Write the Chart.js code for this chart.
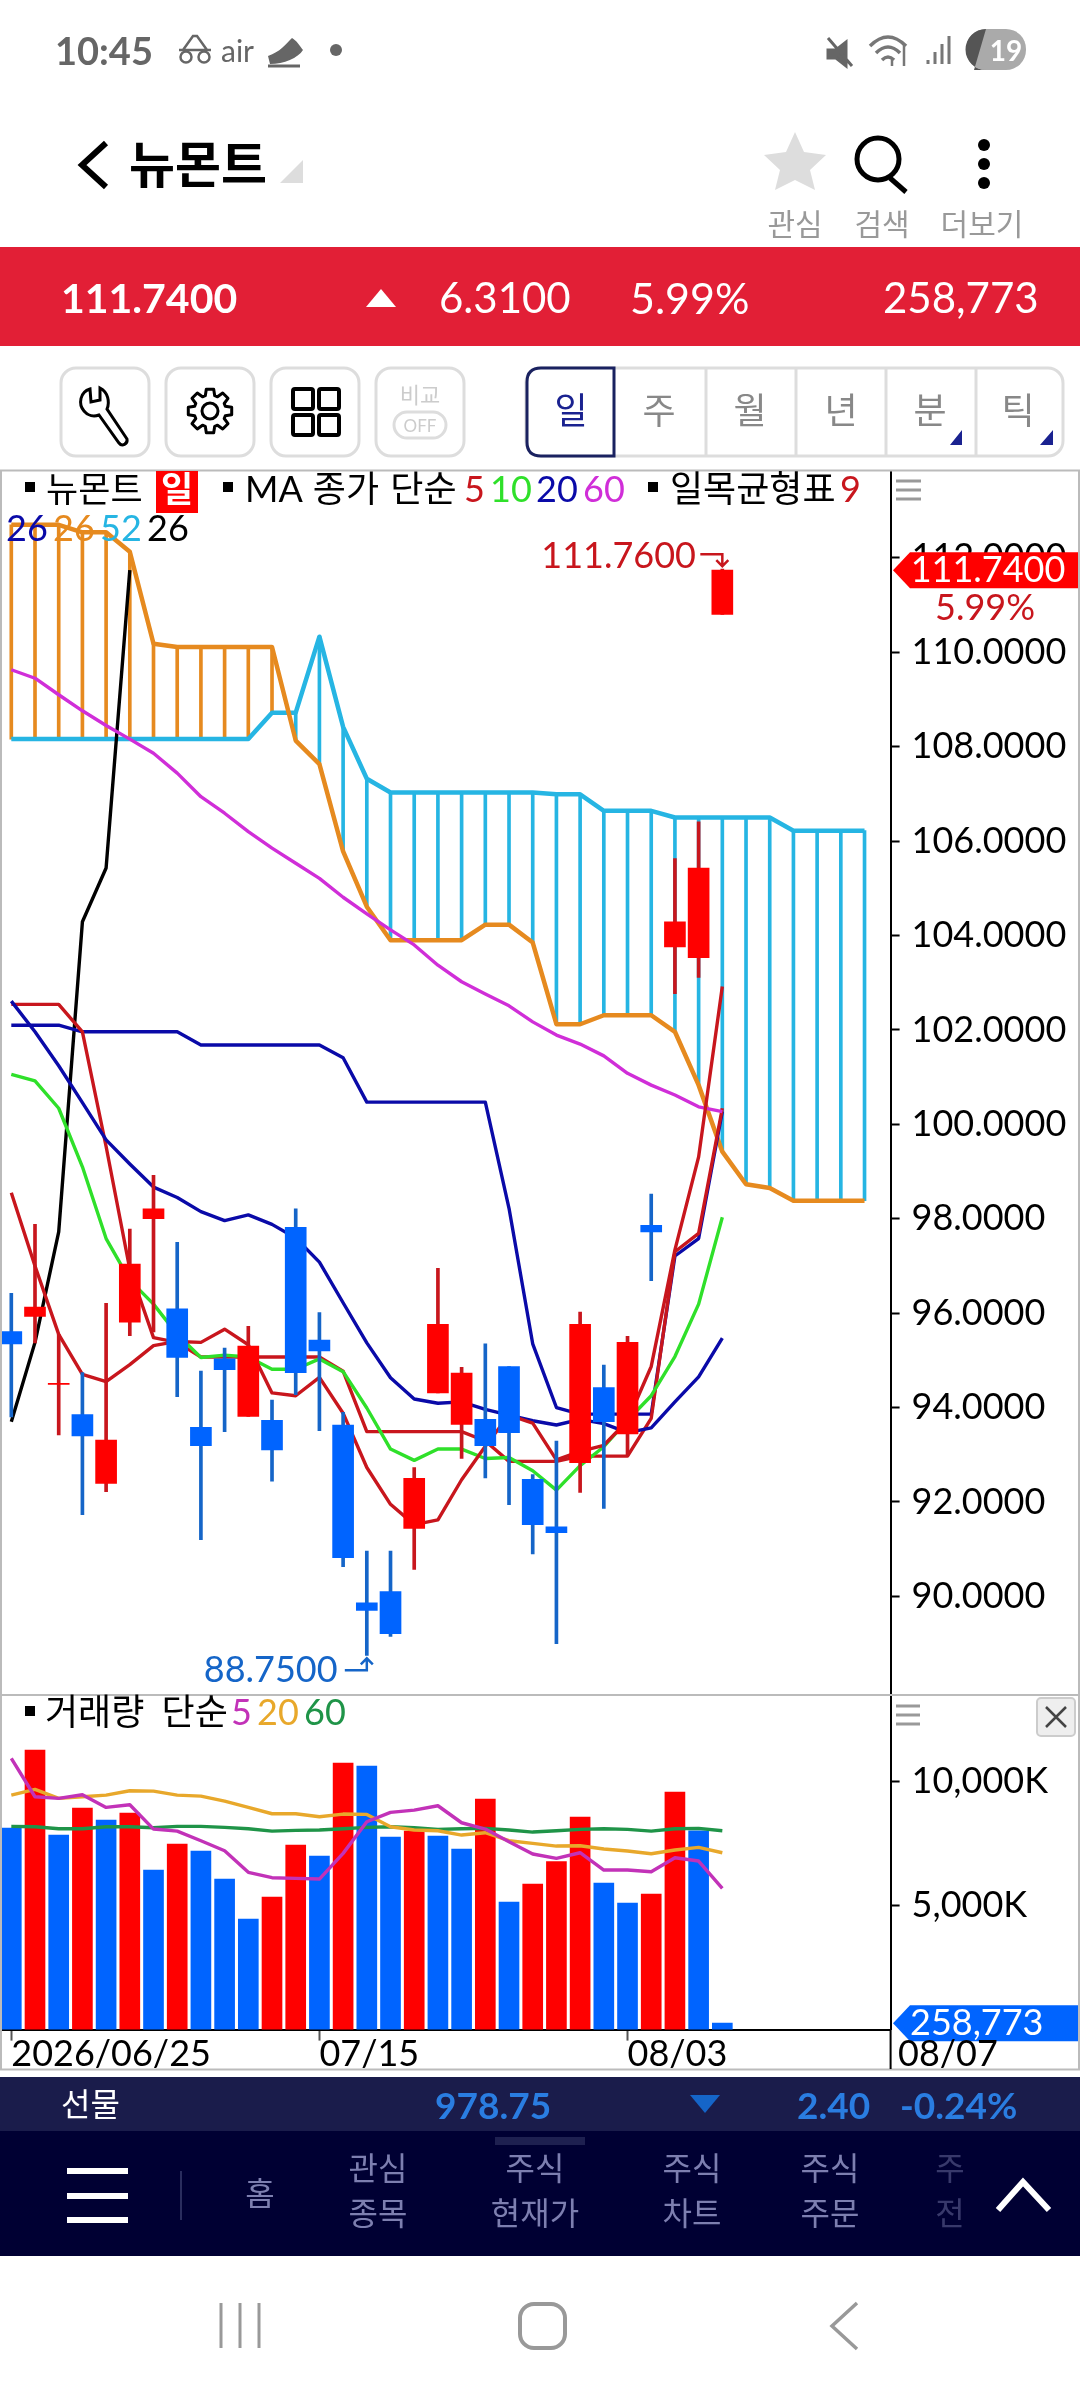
<!DOCTYPE html>
<html lang="ko">
<head>
<meta charset="utf-8">
<title>뉴몬트</title>
<script src="https://cdn.jsdelivr.net/npm/chart.js@4"></script>
<style>
  html, body { margin: 0; padding: 0; background: #fff; }
  #page { position: relative; width: 1080px; height: 2400px; overflow: hidden; background: #fff; font-family: Lato, "Noto Sans CJK KR", sans-serif; }
  #page canvas { position: absolute; left: 0; }
  #icons { position: absolute; left: 0; top: 0; }
  .t { position: absolute; white-space: nowrap; line-height: 1; }
  .box { position: absolute; box-sizing: border-box; }
</style>
</head>
<body>
<div id="page">
  <div class="box" style="left:0;top:247px;width:1080px;height:99px;background:#e21f36"></div>
  <div class="box" style="left:0;top:2077px;width:1080px;height:54px;background:#1a1c4b"></div>
  <div class="box" style="left:0;top:2131px;width:1080px;height:125px;background:#000033"></div>
  <canvas id="priceChart" width="1080" height="1224" style="top:471px"></canvas>
  <canvas id="volumeChart" width="1080" height="374" style="top:1695px"></canvas>
  <svg id="icons" width="1080" height="2400" fill="none">
    <!-- pane frames -->
    <path d="M1 471V2069M0 470.5H1080M0 1695H1080M0 2069.5H1080M1079 471V2069" stroke="#bbb" stroke-width="2"/>
    <path d="M890.6 2030V2069" stroke="#000" stroke-width="2"/>
    <path d="M896 481H921M896 490H921M896 499H921M896 1706H920M896 1715H920M896 1724H920" stroke="#999" stroke-width="3"/>
    <rect x="1037" y="1698" width="38" height="38" rx="4" fill="#eee" stroke="#ccc" stroke-width="2"/>
    <path d="M1046 1707L1066 1727M1066 1707L1046 1727" stroke="#444" stroke-width="2.5"/>
    <!-- status bar -->
    <g stroke="#666" stroke-width="2.5">
      <path d="M183 50L193 36H197L207 50M179 50H211"/><circle cx="186" cy="57" r="5.5"/><circle cx="204" cy="57" r="5.5"/>
    </g>
    <path d="M268 56C280 52 286 44 292 38C296 40 300 46 303 50C298 58 284 64 270 64Z" fill="#666"/>
    <path d="M268 66H300" stroke="#666" stroke-width="3"/>
    <circle cx="336" cy="50" r="6" fill="#666"/>
    <path d="M828 50H836L846 42V66L836 58H828Z M828 38L852 66" stroke="#666" stroke-width="3" fill="#666"/>
    <path d="M870 46Q888 28 906 46M876 53Q888 41 900 53M882 60Q888 54 894 60" stroke="#777" stroke-width="3.5"/>
    <path d="M892 66V58M904 66V44" stroke="#777" stroke-width="2.5"/>
    <path d="M928 64V60M935 64V52M942 64V44M949 64V36" stroke="#777" stroke-width="3"/>
    <rect x="966" y="29" width="60" height="41" rx="20" fill="#aaa"/>
    <path d="M986 29A20 20 0 0 0 986 70H974Z" fill="#555"/>
    <!-- title row -->
    <path d="M106 143L82 165L106 187" stroke="#000" stroke-width="6"/>
    <path d="M280 183L303 160V183Z" fill="#ddd"/>
    <path d="M795 132L804 152L826 155L810 170L815 190L795 180L775 190L780 170L764 155L786 152Z" fill="#ddd"/>
    <circle cx="878" cy="159" r="21" stroke="#000" stroke-width="5"/>
    <path d="M890 178L906 192" stroke="#000" stroke-width="5"/>
    <circle cx="984" cy="145" r="6" fill="#000"/><circle cx="984" cy="164" r="6" fill="#000"/><circle cx="984" cy="183" r="6" fill="#000"/>
    <path d="M366 307L381 289L396 307Z" fill="#fff"/>
    <!-- tool buttons -->
    <g stroke="#ddd" stroke-width="3">
      <rect x="61" y="368" width="88" height="88" rx="15"/><rect x="166" y="368" width="88" height="88" rx="15"/>
      <rect x="271" y="368" width="88" height="88" rx="15"/><rect x="376" y="368" width="88" height="88" rx="15"/>
      <rect x="526" y="368" width="537" height="88" rx="15"/>
      <path d="M706 369V455M796 369V455M886 369V455M976 369V455"/>
    </g>
    <path d="M614 368H541Q527 368 527 382V442Q527 456 541 456H614Z" fill="#fff" stroke="#1a2260" stroke-width="3"/>
    <path d="M90 389C80 392 78 404 84 411C88 416 94 417 99 415L119 443C122 447 128 444 127 439L107 409C110 402 108 392 100 388L100 400L91 402Z" stroke="#000" stroke-width="3"/>
    <circle cx="210" cy="411" r="8" stroke="#000" stroke-width="3"/>
    <path id="gear" stroke="#000" stroke-width="3" stroke-linejoin="round"/>
    <g stroke="#000" stroke-width="4">
      <rect x="293" y="389" width="20" height="20" rx="2"/><rect x="319" y="389" width="20" height="20" rx="2"/>
      <rect x="293" y="415" width="20" height="20" rx="2"/><rect x="319" y="415" width="20" height="20" rx="2"/>
    </g>
    <rect x="394" y="412" width="52" height="26" rx="13" stroke="#ddd" stroke-width="3"/>
    <path d="M950 445L962 430V445ZM1040 445L1053 430V445Z" fill="#1a2290"/>
    <!-- bottom nav -->
    <path d="M495 2137H585V2145H495Z" fill="#1e2050"/>
    <path d="M690 2095H720L705 2113Z" fill="#1565c8"/>
    <path d="M67 2171H128M67 2196H128M67 2220H128" stroke="#fff" stroke-width="6"/>
    <path d="M181 2171V2220" stroke="#2a2d5e" stroke-width="2"/>
    <path d="M998 2210L1023 2182L1049 2210" stroke="#fff" stroke-width="6"/>
    <path d="M221 2303V2348M240 2303V2348M259 2303V2348" stroke="#999" stroke-width="3"/>
    <rect x="520" y="2304" width="45" height="44" rx="14" stroke="#999" stroke-width="4"/>
    <path d="M857 2303L832 2326L857 2349" stroke="#999" stroke-width="3.5"/>
  </svg>
</div>
<script>
// candles
const open  = [95.61,95.93,94.49,93.85,92.39,95.81,98.00,96.09,93.58,95.03,93.81,93.73,97.82,95.43,93.63,89.86,90.10,91.44,94.31,93.64,93.75,94.87,92.48,91.47,92.83,94.42,93.44,97.86,103.76,103.53,110.80]
const close = [95.35,96.13,94.51,93.40,93.31,97.04,98.21,95.06,93.19,94.80,95.30,93.10,94.74,95.20,90.82,89.70,89.21,92.50,95.76,94.73,93.19,93.47,91.52,91.35,95.76,93.70,95.38,97.72,104.29,105.43,111.74]
const high  = [96.42,97.88,95.55,94.74,96.21,97.78,98.92,97.50,94.77,95.26,95.72,94.16,98.21,96.01,93.90,90.96,90.96,92.73,96.95,94.85,95.35,94.87,92.58,93.29,96.02,94.90,95.51,98.52,105.63,106.41,111.76]
const low   = [93.80,95.37,93.42,91.73,92.22,95.52,95.60,94.23,91.20,93.49,93.81,92.44,94.27,93.51,90.63,88.75,89.15,90.57,94.31,92.92,92.51,91.94,90.90,89.00,92.20,91.86,92.98,96.69,102.77,103.11,110.80]

// moving averages
const ma5  = [98.55,97.00,95.55,94.70,94.55,94.91,95.31,95.40,95.38,95.66,95.33,94.31,94.25,94.64,93.88,92.73,91.95,91.52,91.62,92.47,93.18,93.84,93.67,92.89,93.07,93.20,93.72,94.87,97.34,99.31,102.92]
const ma10 = [101.06,100.92,100.34,99.10,97.58,96.70,96.19,95.55,95.06,95.11,95.07,94.81,94.81,95.03,94.76,93.99,93.12,92.88,93.12,93.12,92.92,92.94,92.66,92.25,92.77,93.17,93.73,94.25,95.08,96.19,98.03]
const ma20 = [102.61,101.96,101.24,100.46,99.67,99.16,98.67,98.45,98.15,97.96,98.08,97.88,97.59,97.08,96.22,95.37,94.63,94.18,94.09,94.12,93.96,93.84,93.72,93.63,93.75,93.66,93.47,93.57,94.12,94.65,95.47]
const ma60 = [109.63,109.45,109.10,108.76,108.45,108.16,107.86,107.44,106.94,106.59,106.20,105.85,105.53,105.21,104.81,104.46,104.12,103.80,103.37,103.02,102.76,102.51,102.17,101.89,101.70,101.45,101.08,100.83,100.62,100.37,100.27]

// ichimoku
const tenkan = [102.54,102.54,102.54,101.96,99.53,96.93,95.48,95.38,95.07,95.07,95.07,95.07,95.07,95.07,94.77,93.49,93.49,93.49,93.49,93.49,93.29,92.86,92.86,92.86,92.97,92.97,92.97,93.77,97.30,97.69,100.34]
const kijun  = [102.10,102.10,102.10,101.96,101.96,101.96,101.96,101.96,101.68,101.68,101.68,101.68,101.68,101.68,101.41,100.47,100.47,100.47,100.47,100.47,100.47,98.22,95.35,94.00,93.86,93.86,93.86,93.86,97.21,97.58,100.27]
const span1  = [112.70,112.70,112.70,112.54,112.54,112.13,110.18,110.11,110.11,110.11,110.11,110.11,108.13,107.63,105.78,104.61,103.90,103.90,103.90,103.90,104.23,104.23,103.85,102.12,102.12,102.31,102.31,102.31,101.96,100.83,99.42,98.73,98.65,98.38,98.38,98.38,98.38]
const span2  = [108.16,108.16,108.16,108.16,108.16,108.16,108.16,108.16,108.16,108.16,108.16,108.72,108.72,110.33,108.42,107.32,107.03,107.03,107.03,107.03,107.03,107.03,107.03,106.99,106.99,106.64,106.64,106.64,106.50,106.50,106.50,106.50,106.50,106.22,106.22,106.22,106.22]
const lagging = [93.70,95.38,97.72,104.29,105.43,111.74]

// volume, in thousands
const volume = [8107,11243,7826,8911,8429,8710,6419,7464,7182,6057,4449,5333,7424,6981,10720,10599,7745,7986,7785,7263,9273,5132,5856,6754,8549,5896,5092,5454,9554,8000,258.773]
const vol5  = [10908,9367,9300,9447,8938,9045,8067,7986,7598,7196,6325,6110,6084,6057,7089,8362,8737,8831,9005,8321,8067,7558,7062,6888,7115,6419,6419,6352,6914,6780,5682]
const vol20 = [9434,9661,9300,9367,9434,9608,9594,9434,9393,9192,8938,8683,8683,8563,8670,8656,8161,8027,8000,7826,7919,7598,7491,7383,7397,7263,7182,7075,7223,7330,7115]
const vol60 = [8174,8161,8080,8080,8161,8161,8120,8174,8174,8134,8080,7986,8013,8027,8080,8134,8161,8120,8053,8080,8094,8027,7946,8000,8053,8080,8053,7986,8080,8094,8000]

// axes
const priceTicks = [90,92,94,96,98,100,102,104,106,108,110,112]
const volumeTicks = [5000,10000]
const dateTickIndex = [0,13,26]
const dateTickLabels = ['2026/06/25','07/15','08/03']

const RED = '#ff0000', BLUE = '#0064ff', WICK_RED = '#c8161d', WICK_BLUE = '#1565c8'
const ORANGE = '#e68a1f', CYAN = '#26b5e3', NAVY = '#0a0aa8', MAGENTA = '#d02ed8', GREEN = '#2fe02a'
const FONT = 'Lato'
const xMin = -0.477, xMax = 37.1
const LINE_WIDTH = 3.4

Chart.defaults.font.family = FONT

function xy(values) {
  return values.map((y, x) => ({x, y}))
}
function range(a, b) {
  return a.map((v, x) => ({x, y: [v, b[x]]}))
}
function line(values, color, width, order) {
  return {type: 'line', data: xy(values), borderColor: color, borderWidth: width, pointRadius: 0, tension: 0, order, borderJoinStyle: 'round'}
}
function yAxis(min, max, ticks, format) {
  return {
    position: 'right', min, max,
    // keep the plot flush with the pane, labels must not pad it
    afterFit: s => { s.width = 189.4; s.paddingTop = 0; s.paddingBottom = 0 },
    afterBuildTicks: s => { s.ticks = ticks.map(value => ({value})) },
    border: {color: '#000', width: 2},
    grid: {drawOnChartArea: false, tickColor: '#000', tickWidth: 2, tickLength: 9},
    ticks: {color: '#000', padding: 12, font: {size: 36}, callback: format}
  }
}

function text(ctx, str, x, y, color, align) {
  ctx.fillStyle = color
  ctx.textAlign = align || 'left'
  ctx.textBaseline = 'middle'
  ctx.font = '36px ' + FONT
  ctx.fillText(str, x, y)
}
function tag(ctx, y, color, top, bottom) {
  ctx.fillStyle = color
  ctx.beginPath()
  ctx.moveTo(893, y)
  ctx.lineTo(910, top)
  ctx.lineTo(1078, top)
  ctx.lineTo(1078, bottom)
  ctx.lineTo(910, bottom)
  ctx.closePath()
  ctx.fill()
}

const priceMarks = {
  id: 'priceMarks',
  afterDraw(chart) {
    const {ctx, scales: {x, y}} = chart
    ctx.save()
    // current price flag
    const py = y.getPixelForValue(close[close.length - 1])
    tag(ctx, py, RED, py - 18, py + 18)
    text(ctx, close[close.length - 1].toFixed(4), 988, py, '#fff', 'center')
    text(ctx, '5.99%', 985, py + 38, WICK_RED, 'center')
    // highest price
    const hi = high.indexOf(Math.max(...high))
    const hx = x.getPixelForValue(hi), hy = y.getPixelForValue(high[hi])
    text(ctx, high[hi].toFixed(4), hx - 181, hy - 13, WICK_RED)
    ctx.strokeStyle = WICK_RED
    ctx.lineWidth = 2.5
    ctx.beginPath()
    ctx.moveTo(hx - 22, hy - 15); ctx.lineTo(hx, hy - 15); ctx.lineTo(hx, hy - 3)
    ctx.moveTo(hx - 6, hy - 9); ctx.lineTo(hx, hy - 3); ctx.lineTo(hx + 6, hy - 9)
    ctx.stroke()
    // lowest price
    const lo = low.indexOf(Math.min(...low))
    const lx = x.getPixelForValue(lo), ly = y.getPixelForValue(low[lo])
    text(ctx, low[lo].toFixed(4), lx - 163, ly + 15, WICK_BLUE)
    ctx.strokeStyle = WICK_BLUE
    ctx.beginPath()
    ctx.moveTo(lx - 22, ly + 15); ctx.lineTo(lx, ly + 15); ctx.lineTo(lx, ly + 3)
    ctx.moveTo(lx - 6, ly + 9); ctx.lineTo(lx, ly + 3); ctx.lineTo(lx + 6, ly + 9)
    ctx.stroke()
    ctx.restore()
  }
}

const volumeMarks = {
  id: 'volumeMarks',
  afterDraw(chart) {
    const {ctx, scales: {y}} = chart
    ctx.save()
    const py = y.getPixelForValue(volume[volume.length - 1])
    tag(ctx, py, BLUE, py - 18, py + 18)
    text(ctx, '258,773', 910, py, '#fff')
    text(ctx, '08/07', 898, 359, '#000')
    ctx.restore()
  }
}

new Chart(document.getElementById('priceChart'), {
  type: 'bar',
  data: {datasets: [
    {data: range(open, close), backgroundColor: close.map((c, i) => c >= open[i] ? RED : BLUE), barThickness: 21, grouped: false, order: 1},
    {data: range(low, high), backgroundColor: close.map((c, i) => c >= open[i] ? WICK_RED : WICK_BLUE), barThickness: 3, grouped: false, order: 2},
    line(ma5, WICK_RED, LINE_WIDTH, 3),
    line(ma10, GREEN, LINE_WIDTH, 4),
    line(ma20, NAVY, LINE_WIDTH, 5),
    line(ma60, MAGENTA, LINE_WIDTH, 6),
    line(tenkan, WICK_RED, LINE_WIDTH, 7),
    line(kijun, NAVY, LINE_WIDTH, 8),
    line(lagging, '#000', LINE_WIDTH, 9),
    line(span1, ORANGE, 4.5, 10),
    line(span2, CYAN, 4.5, 11),
    {data: range(span1, span2), backgroundColor: span1.map((v, i) => v >= span2[i] ? ORANGE : CYAN), barThickness: 3, grouped: false, order: 12}
  ]},
  options: {
    responsive: false, animation: false, devicePixelRatio: 1,
    layout: {padding: 0},
    plugins: {legend: {display: false}, tooltip: {enabled: false}},
    scales: {
      x: {type: 'linear', display: false, min: xMin, max: xMax, offset: false},
      y: yAxis(87.91, 113.84, priceTicks, v => v.toFixed(4))
    }
  },
  plugins: [priceMarks]
})

new Chart(document.getElementById('volumeChart'), {
  type: 'bar',
  data: {datasets: [
    line(vol5, '#c232b8', LINE_WIDTH, 1),
    line(vol20, '#e8a82b', LINE_WIDTH, 2),
    line(vol60, '#1f9448', LINE_WIDTH, 3),
    {data: xy(volume), backgroundColor: volume.map((v, i) => i > 0 && v > volume[i - 1] ? RED : BLUE), barThickness: 20, grouped: false, order: 4}
  ]},
  options: {
    responsive: false, animation: false, devicePixelRatio: 1,
    layout: {padding: 0},
    plugins: {legend: {display: false}, tooltip: {enabled: false}},
    scales: {
      x: {
        type: 'linear', min: xMin, max: xMax, offset: false,
        afterFit: s => { s.height = 39.4; s.paddingLeft = 0; s.paddingRight = 0 },
        afterBuildTicks: s => { s.ticks = dateTickIndex.map(value => ({value})) },
        border: {color: '#000', width: 2},
        grid: {drawOnChartArea: false, offset: false, tickColor: '#555', tickWidth: 2, tickLength: 11},
        ticks: {color: '#000', align: 'start', autoSkip: false, maxRotation: 0, padding: -4, font: {size: 36, lineHeight: 1}, callback: (v, i) => dateTickLabels[i]}
      },
      y: yAxis(0, 13460, volumeTicks, v => v.toLocaleString('en-US') + 'K')
    }
  },
  plugins: [volumeMarks]
})

// gear outline for the settings button
let gear = ''
for (let i = 0; i < 8; i++) {
  const a = i * Math.PI / 4
  const pts = [[-0.30, 16], [-0.17, 22], [0.17, 22], [0.30, 16]]
  pts.forEach(([da, r]) => {
    const px = 210 + r * Math.cos(a + da), py = 411 + r * Math.sin(a + da)
    gear += (gear ? 'L' : 'M') + px.toFixed(1) + ' ' + py.toFixed(1)
  })
}
document.getElementById('gear').setAttribute('d', gear + 'Z')

// screen text around the charts
const page = document.getElementById('page')
function label(str, x, cy, size, color, opts) {
  const el = document.createElement('span')
  el.className = 't'
  el.textContent = str
  el.style.left = x + 'px'
  el.style.top = (cy - size / 2) + 'px'
  el.style.fontSize = size + 'px'
  el.style.color = color
  if (opts && opts.bold) el.style.fontWeight = opts.bold
  if (opts && opts.center) el.style.transform = 'translateX(-50%)'
  if (opts && opts.opacity) el.style.opacity = opts.opacity
  if (opts && opts.words) el.style.wordSpacing = opts.words + 'px'
  page.appendChild(el)
}
function square(x, y) {
  const el = document.createElement('div')
  el.className = 'box'
  el.style.cssText = `left:${x}px;top:${y}px;width:10px;height:10px;background:#000`
  page.appendChild(el)
}

label('10:45', 55, 50, 38, '#666', {bold: 700})
label('air', 221, 50, 30, '#666')
label('19', 1006, 50, 28, '#fff', {bold: 700, center: true})
label('뉴몬트', 129, 164, 50, '#000', {bold: 700})
label('관심', 795, 223, 30, '#999', {center: true})
label('검색', 882, 223, 30, '#999', {center: true})
label('더보기', 982, 223, 30, '#999', {center: true})
label('111.7400', 61, 297, 41, '#fff', {bold: 700})
label('6.3100', 439, 297, 42, '#fff')
label('5.99%', 630, 297, 43, '#fff')
label('258,773', 883, 297, 42, '#fff')
label('비교', 420, 395, 22, '#ccc', {center: true})
label('OFF', 420, 425, 17, '#ccc', {center: true})
const tabs = ['일','주','월','년','분','틱']
const tabX = [571,659,750,841,930,1018]
tabs.forEach((s, i) => label(s, tabX[i], 410, 36, i === 0 ? '#1a2290' : '#888', {center: true}))

square(25, 482)
label('뉴몬트', 46, 488, 35, '#000')
const dayBox = document.createElement('div')
dayBox.className = 'box'
dayBox.style.cssText = 'left:156px;top:471px;width:42px;height:42px;background:#f00'
page.appendChild(dayBox)
label('일', 177, 488, 35, '#fff', {bold: 700, center: true})
square(223, 482)
label('MA 종가 단순', 245, 488, 36, '#000', {words: 2})
label('5', 464, 488, 36, '#c8161d')
label('10', 490, 488, 36, GREEN)
label('20', 536, 488, 36, NAVY)
label('60', 583, 488, 36, MAGENTA)
square(648, 482)
label('일목균형표', 670, 488, 36, '#000')
label('9', 840, 488, 36, '#c8161d')
label('26', 6, 527, 36, NAVY)
label('26', 53, 527, 36, ORANGE)
label('52', 100, 527, 36, CYAN)
label('26', 147, 527, 36, '#000')

square(25, 1706)
label('거래량 단순', 45, 1711, 36, '#000', {words: 8})
label('5', 231, 1711, 36, '#c232b8')
label('20', 257, 1711, 36, '#e8a82b')
label('60', 304, 1711, 36, '#1f9448')

label('선물', 61, 2104, 32, '#fff')
label('978.75', 435, 2104, 37, '#2a7de1', {bold: 700})
label('2.40', 797, 2104, 37, '#2a7de1', {bold: 700})
label('-0.24%', 900, 2104, 37, '#2a7de1', {bold: 700})
const NAV = '#7d7fb0'
label('홈', 260, 2193, 32, NAV, {center: true})
label('관심', 378, 2168, 32, NAV, {center: true})
label('종목', 378, 2213, 32, NAV, {center: true})
label('주식', 535, 2168, 32, NAV, {center: true})
label('현재가', 535, 2213, 32, NAV, {center: true})
label('주식', 692, 2168, 32, NAV, {center: true})
label('차트', 692, 2213, 32, NAV, {center: true})
label('주식', 830, 2168, 32, NAV, {center: true})
label('주문', 830, 2213, 32, NAV, {center: true})
label('주', 950, 2168, 32, NAV, {center: true, opacity: 0.45})
label('전', 950, 2213, 32, NAV, {center: true, opacity: 0.45})
</script>
</body>
</html>
